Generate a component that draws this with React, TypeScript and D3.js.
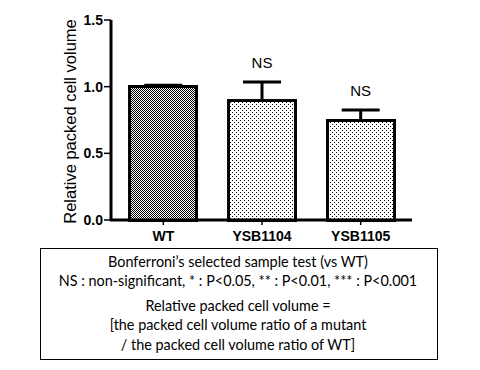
import React from "react";
import * as d3 from "d3";

const categories = ["WT", "YSB1104", "YSB1105"];
const means = [1.0, 0.9, 0.75];
const errors = [0.01, 0.135, 0.075];
const sigLabels = ["", "NS", "NS"];
const patterns = ["checker", "dots", "dots"];
const yTicks = [0, 0.5, 1.0, 1.5];
const noteLines = [
  "Bonferroni\u2019s selected sample test (vs WT)",
  "NS : non-significant, * : P<0.05, ** : P<0.01, *** : P<0.001",
  "Relative packed cell volume =",
  "[the packed cell volume ratio of a mutant",
  "/ the packed cell volume ratio of WT]",
];

export default function App() {
  const W = 480, H = 370;
  const x0 = 111, x1 = 412, yTop = 20, yBot = 220;
  const y = d3.scaleLinear().domain([0, 1.5]).range([yBot, yTop]);
  const x = d3.scaleBand().domain(categories).range([112, 412]).paddingInner(0.32).paddingOuter(0.18);
  const bw = x.bandwidth();
  const noteY = [262, 281, 306, 325, 345];
  const arial = "Liberation Sans, Arial, sans-serif";
  return (
    <svg width={W} height={H} style={{ position: "absolute", left: 0, top: 0, background: "#fff" }}>
      <defs>
        <pattern id="checker" width="2" height="2" patternUnits="userSpaceOnUse">
          <rect width="2" height="2" fill="#fff" />
          <rect x="0" y="0" width="1" height="1" fill="#000" />
          <rect x="1" y="1" width="1" height="1" fill="#000" />
        </pattern>
        <pattern id="dots" width="4" height="4" patternUnits="userSpaceOnUse">
          <rect width="4" height="4" fill="#fff" />
          <rect x="0" y="0" width="1" height="1" fill="#000" />
          <rect x="2" y="2" width="1" height="1" fill="#000" />
        </pattern>
      </defs>
      <rect width={W} height={H} fill="#fff" />
      {categories.map((c, i) => {
        const bx = x(c)!;
        const cx = bx + bw / 2;
        const top = y(means[i]);
        const etop = y(means[i] + errors[i]);
        return (
          <g key={c}>
            <line x1={cx} x2={cx} y1={top} y2={etop} stroke="#000" strokeWidth={3} />
            <line x1={cx - 19} x2={cx + 19} y1={etop} y2={etop} stroke="#000" strokeWidth={3} />
            <rect x={bx} y={top} width={bw} height={yBot - top} fill={`url(#${patterns[i]})`} stroke="#000" strokeWidth={3} shapeRendering="crispEdges" />
            {sigLabels[i] && (
              <text x={cx} y={etop - 14} textAnchor="middle" fontFamily={arial} fontSize={15}>
                {sigLabels[i]}
              </text>
            )}
            <line x1={cx} x2={cx} y1={yBot} y2={yBot + 5} stroke="#000" strokeWidth={1.5} />
            <text x={cx} y={yBot + 21} textAnchor="middle" fontFamily={arial} fontSize={14} fontWeight="bold">
              {c}
            </text>
          </g>
        );
      })}
      <line x1={x0} x2={x0} y1={yTop} y2={yBot + 1} stroke="#000" strokeWidth={3} />
      <line x1={x0 - 1} x2={x1} y1={yBot} y2={yBot} stroke="#000" strokeWidth={3} />
      {yTicks.map((t) => (
        <g key={t}>
          <line x1={x0 - 7} x2={x0} y1={y(t)} y2={y(t)} stroke="#000" strokeWidth={1.5} />
          <text x={x0 - 8} y={y(t) + 5} textAnchor="end" fontFamily={arial} fontSize={14} fontWeight="bold">
            {d3.format(".1f")(t)}
          </text>
        </g>
      ))}
      <text transform={`translate(76,${(yTop + 3 + yBot) / 2}) rotate(-90)`} textAnchor="middle" fontFamily={arial} fontSize={16.5}>
        Relative packed cell volume
      </text>
      <rect x={40.5} y={248.5} width={397} height={111} fill="none" stroke="#000" strokeWidth={1} />
      {noteLines.map((l, i) => (
        <text key={i} x={238} y={noteY[i] + 5} textAnchor="middle" fontFamily="Lato, sans-serif" fontSize={14.4}>
          {l}
        </text>
      ))}
    </svg>
  );
}
